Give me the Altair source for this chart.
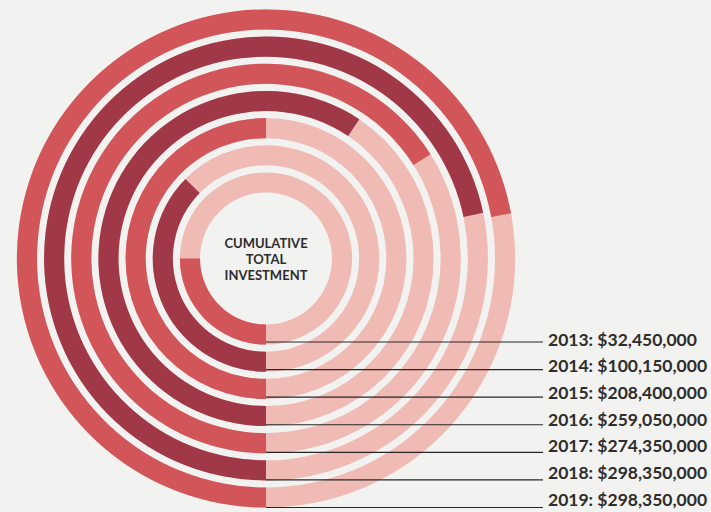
import math
import pandas as pd
import altair as alt

# ---- data ----
years = [2013, 2014, 2015, 2016, 2017, 2018, 2019]
amounts = [32450000, 100150000, 208400000, 259050000, 274350000, 298350000, 298350000]
# share of each ring that is filled
filled_share = [0.25, 0.374, 0.5, 0.594, 0.66, 0.717, 0.721]
ring_tone = ["light", "dark", "light", "dark", "light", "dark", "light"]
center_title = "CUMULATIVE\nTOTAL\nINVESTMENT"

BG = "#f2f2f0"
PINK = "#f0bab5"
RED = "#d2555a"
DARK = "#a03847"
INK = "#2d2d2d"

rings = list(range(1, len(years) + 1))
df = pd.DataFrame({
    "year": years,
    "amount": amounts,
    "share": filled_share,
    "tone": ring_tone,
    "ring": rings,
    "ring_outer": [r + 0.74 for r in rings],
    "start": [0.0] * len(years),
    "full": [1.0] * len(years),
    "label": [f"{y}: ${a:,}" for y, a in zip(years, amounts)],
})

CX, CY = 266, 258.5
theta_scale = alt.Scale(domain=[0, 1], range=[math.pi, 3 * math.pi])
radius_scale = alt.Scale(type="linear", domain=[1, 7], range=[66, 229], zero=False)
line_y = alt.Scale(domain=[1, 7], range=[342, 507.5])

base = alt.Chart(df)

track = base.mark_arc(color=PINK).encode(
    x=alt.value(CX), y=alt.value(CY),
    theta=alt.Theta("start:Q", scale=theta_scale, stack=None),
    theta2=alt.Theta2("full:Q"),
    radius=alt.Radius("ring:Q", scale=radius_scale),
    radius2=alt.Radius2("ring_outer:Q"),
)

fill = base.mark_arc().encode(
    x=alt.value(CX), y=alt.value(CY),
    theta=alt.Theta("start:Q", scale=theta_scale, stack=None),
    theta2=alt.Theta2("share:Q"),
    radius=alt.Radius("ring:Q", scale=radius_scale),
    radius2=alt.Radius2("ring_outer:Q"),
    color=alt.Color("tone:N", scale=alt.Scale(domain=["light", "dark"], range=[RED, DARK]), legend=None),
)

rules = base.mark_rule(color="#262626", strokeWidth=1.2).encode(
    x=alt.value(CX), x2=alt.value(543),
    y=alt.Y("ring:Q", scale=line_y, axis=None),
)

# labels sit on a slightly tighter spacing than the leader lines
labels = base.transform_calculate(
    label_pos="datum.ring + 0.01"
).mark_text(
    align="left", baseline="middle", font="Lato", fontSize=17.5,
    fontWeight="bold", color=INK,
).encode(
    x=alt.value(548),
    y=alt.Y("label_pos:Q", scale=alt.Scale(domain=[1.01, 7.01], range=[340.5, 500.5]), axis=None),
    text="label:N",
)

center = alt.Chart(pd.DataFrame({"t": [center_title]})).mark_text(
    lineBreak="\n", lineHeight=16, font="Lato", fontSize=13,
    fontWeight="bold", color=INK, align="center", baseline="middle",
).encode(x=alt.value(CX), y=alt.value(244), text="t:N")

chart = alt.layer(track, fill, rules, labels, center).resolve_scale(y="independent").properties(
    width=711, height=512,
    autosize=alt.AutoSizeParams(type="none"),
    padding=0,
    background=BG,
).configure_view(stroke=None)

chart.save("out.html", embed_options={"renderer": "svg", "actions": False})
